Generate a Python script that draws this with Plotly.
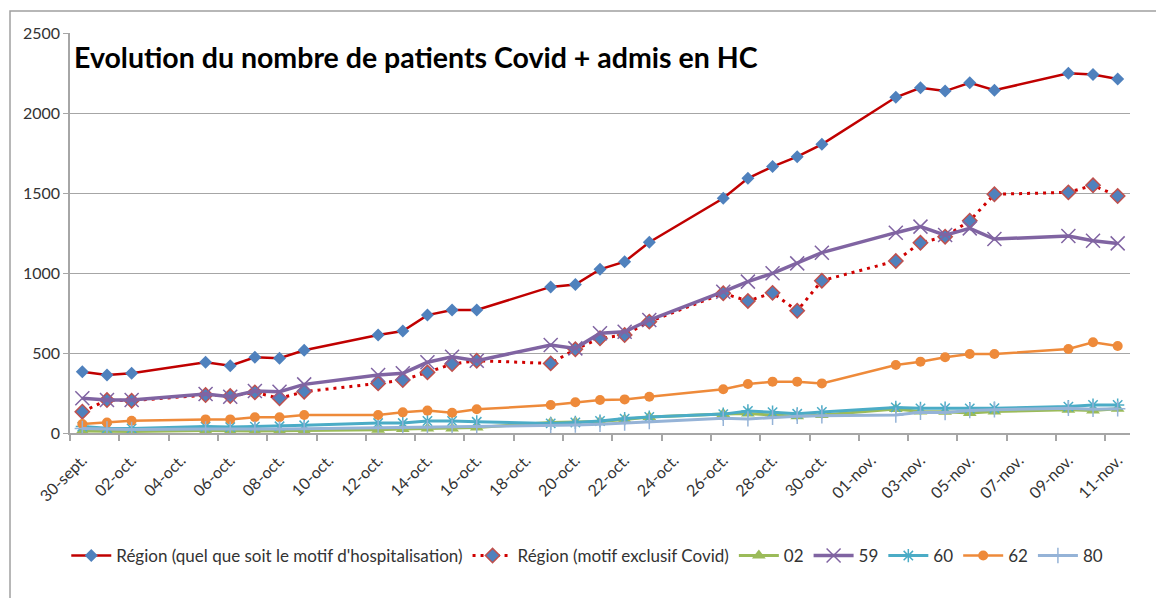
import plotly.graph_objects as go

# Dates with data (weekends missing)
dates = [
    "2020-09-30", "2020-10-01", "2020-10-02", "2020-10-05", "2020-10-06",
    "2020-10-07", "2020-10-08", "2020-10-09", "2020-10-12", "2020-10-13",
    "2020-10-14", "2020-10-15", "2020-10-16", "2020-10-19", "2020-10-20",
    "2020-10-21", "2020-10-22", "2020-10-23", "2020-10-26", "2020-10-27",
    "2020-10-28", "2020-10-29", "2020-10-30", "2020-11-02", "2020-11-03",
    "2020-11-04", "2020-11-05", "2020-11-06", "2020-11-09", "2020-11-10",
    "2020-11-11",
]

region_all = [383, 362, 373, 442, 421, 473, 467, 517, 612, 637,
              737, 769, 769, 913, 928, 1023, 1071, 1192, 1467, 1592,
              1665, 1727, 1804, 2098, 2158, 2137, 2189, 2142, 2248, 2240,
              2212]
region_covid = [133, 206, 202, 237, 231, 254, 217, 258, 310, 331,
                379, 431, 452, 435, 523, 592, 612, 696, 873, 825,
                876, 764, 952, 1075, 1189, 1227, 1327, 1492, 1504, 1548,
                1481]
dep_02 = [12, 10, 10, 15, 12, 12, 14, 15, 20, 25,
          28, 28, 35, 65, 68, 72, 85, 100, 118, 122,
          112, 105, 112, 150, 135, 133, 125, 135, 145, 140,
          152]
dep_59 = [217, 206, 206, 244, 227, 262, 258, 304, 362, 373,
          442, 477, 452, 550, 529, 623, 633, 706, 883, 946,
          998, 1060, 1127, 1252, 1290, 1237, 1279, 1212, 1231, 1202,
          1185]
dep_60 = [40, 30, 28, 40, 37, 40, 42, 48, 62, 62,
          75, 75, 70, 60, 66, 75, 90, 100, 118, 138,
          130, 120, 132, 160, 154, 155, 153, 155, 165, 175,
          175]
dep_62 = [56, 65, 77, 85, 85, 98, 98, 112, 112, 129,
          140, 127, 148, 175, 192, 206, 210, 227, 273, 306,
          321, 321, 310, 425, 446, 473, 494, 494, 525, 567,
          544]
dep_80 = [28, 25, 22, 25, 24, 25, 25, 26, 32, 33,
          35, 36, 38, 48, 50, 55, 62, 72, 92, 88,
          98, 104, 108, 112, 130, 128, 140, 145, 155, 148,
          152]

tick_dates = [
    "2020-09-30", "2020-10-02", "2020-10-04", "2020-10-06", "2020-10-08",
    "2020-10-10", "2020-10-12", "2020-10-14", "2020-10-16", "2020-10-18",
    "2020-10-20", "2020-10-22", "2020-10-24", "2020-10-26", "2020-10-28",
    "2020-10-30", "2020-11-01", "2020-11-03", "2020-11-05", "2020-11-07",
    "2020-11-09", "2020-11-11",
]
tick_labels = [
    "30-sept.", "02-oct.", "04-oct.", "06-oct.", "08-oct.",
    "10-oct.", "12-oct.", "14-oct.", "16-oct.", "18-oct.",
    "20-oct.", "22-oct.", "24-oct.", "26-oct.", "28-oct.",
    "30-oct.", "01-nov.", "03-nov.", "05-nov.", "07-nov.",
    "09-nov.", "11-nov.",
]

FONT = "Lato, 'Open Sans', sans-serif"
GRID = "#A6A6A6"

fig = go.Figure()

fig.add_trace(go.Scatter(
    x=dates, y=region_all, mode="lines+markers",
    name="Région (quel que soit le motif d'hospitalisation)",
    line=dict(color="#C00000", width=2.5),
    marker=dict(symbol="diamond", size=10, color="#4F81BD"),
))
fig.add_trace(go.Scatter(
    x=dates, y=region_covid, mode="lines+markers",
    name="Région (motif exclusif Covid)",
    line=dict(color="#D00000", width=3, dash="3px,5px"),
    marker=dict(symbol="diamond", size=11, color="#4F81BD",
                line=dict(color="#C0504D", width=1.5)),
))
fig.add_trace(go.Scatter(
    x=dates, y=dep_02, mode="lines+markers", name="02",
    line=dict(color="#9BBB59", width=3),
    marker=dict(symbol="triangle-up", size=12, color="#9BBB59"),
))
fig.add_trace(go.Scatter(
    x=dates, y=dep_59, mode="lines+markers", name="59",
    line=dict(color="#8064A2", width=3.5),
    marker=dict(symbol="x-thin", size=14, color="#8064A2",
                line=dict(color="#8064A2", width=1.5)),
))
fig.add_trace(go.Scatter(
    x=dates, y=dep_60, mode="lines+markers", name="60",
    line=dict(color="#4BACC6", width=3),
    marker=dict(symbol="asterisk-open", size=11, color="#4BACC6",
                line=dict(color="#4BACC6", width=1.5)),
))
fig.add_trace(go.Scatter(
    x=dates, y=dep_62, mode="lines+markers", name="62",
    line=dict(color="#EE8A3A", width=2.5),
    marker=dict(symbol="circle", size=10, color="#EE8A3A"),
))
fig.add_trace(go.Scatter(
    x=dates, y=dep_80, mode="lines+markers", name="80",
    line=dict(color="#95B3D7", width=3),
    marker=dict(symbol="cross-thin-open", size=11, color="#95B3D7",
                line=dict(color="#95B3D7", width=1.5)),
))

# page body has an 8px margin, so the figure is a little smaller than the window
fig.update_layout(
    width=1156, height=590,
    margin=dict(l=62, r=34, t=25, b=165),
    paper_bgcolor="white", plot_bgcolor="white",
    font=dict(family=FONT, size=16, color="#333333"),
    showlegend=True,
    legend=dict(orientation="h", x=0.488, xanchor="center", y=-0.3075,
                yanchor="middle", font=dict(size=17), itemwidth=40,
                tracegroupgap=0),
    annotations=[dict(
        text="<b>Evolution du nombre de patients Covid + admis en HC</b>",
        xref="paper", yref="paper", x=0.002, y=0.94,
        xanchor="left", yanchor="middle", showarrow=False,
        font=dict(family=FONT, size=28.5, color="black"),
    )],
    shapes=[dict(
        type="rect", xref="paper", yref="paper",
        x0=-0.0566, x1=1.04, y0=-0.45, y1=1.055,
        line=dict(color="#A0A0A0", width=1.5), fillcolor="rgba(0,0,0,0)",
        layer="below",
    )],
)

fig.update_xaxes(
    type="date",
    range=["2020-09-29 12:00", "2020-11-11 12:00"],
    tickmode="array", tickvals=tick_dates, ticktext=tick_labels,
    tickangle=-45, ticks="", showgrid=False, ticklabelstandoff=10,
    showline=True, linecolor=GRID, linewidth=1.5,
    minor=dict(ticks="outside", ticklen=6, tickcolor=GRID, tickwidth=1.5,
               tick0="2020-09-29 12:00", dtick=2 * 86400000, showgrid=False),
    zeroline=False,
)
fig.update_yaxes(
    range=[0, 2500], dtick=500,
    showgrid=True, gridcolor=GRID, gridwidth=1,
    showline=True, linecolor=GRID, linewidth=1.5,
    ticks="outside", ticklen=5, tickcolor=GRID,
    zeroline=False,
)

fig.write_html("out.html")
